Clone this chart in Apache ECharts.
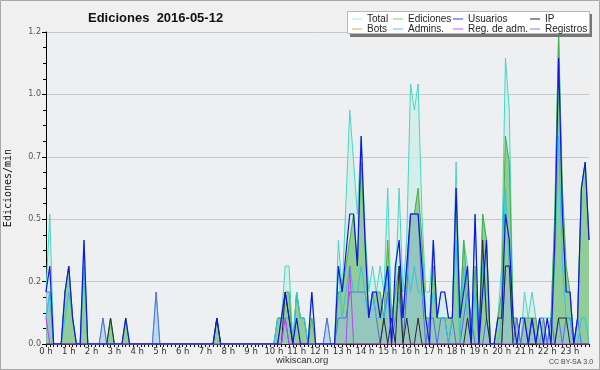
<!DOCTYPE html>
<html><head><meta charset="utf-8">
<script src="https://cdn.jsdelivr.net/npm/echarts@6/dist/echarts.min.js"></script>
<style>html,body{margin:0;padding:0;background:#f0f0f0}#c{width:600px;height:370px}</style>
</head><body><div id="c"></div>
<script>
const hourLabels = ['0 h','1 h','2 h','3 h','4 h','5 h','6 h','7 h','8 h','9 h','10 h','11 h','12 h','13 h','14 h','15 h','16 h','17 h','18 h','19 h','20 h','21 h','22 h','23 h'];
const yTicks = [0, 0.24, 0.48, 0.72, 0.96, 1.2];
// one value every 10 minutes, six per hour
const total = [
 0.2,0.5,0,0,0,0.2,  0.3,0.1,0,0,0.4,0,  0,0,0,0.1,0,0.1,  0,0,0,0.1,0,0,
 0,0,0,0,0,0.2,  0,0,0,0,0,0,  0,0,0,0,0,0,  0,0,0,0.1,0,0,
 0,0,0,0,0,0,  0,0,0,0,0,0,  0,0.1,0.1,0.3,0.3,0,  0.2,0.1,0.1,0,0.2,0,
 0,0,0.1,0,0,0.4,  0.2,0.55,0.9,0.7,0.5,0.8,  0.45,0.2,0.3,0.2,0.3,0.2,  0.6,0.1,0.2,0.6,0.2,0.4,
 1.0,0.9,1.0,0.5,0.2,0.2,  0.4,0.1,0.2,0.2,0.1,0.1,  0.7,0.1,0.4,0.3,0,0.5,  0,0.5,0.4,0,0,0.1,
 0.3,1.1,0.9,0.1,0.1,0,  0.2,0.1,0.2,0.1,0,0.1,  0.1,0.1,0.5,1.2,0.5,0.2,  0.2,0,0.1,0.6,0.7,0.4
];
const ediciones = [
 0.1,0.2,0,0,0,0.2,  0.3,0.1,0,0,0.3,0,  0,0,0,0,0,0.1,  0,0,0,0.1,0,0,
 0,0,0,0,0,0,  0,0,0,0,0,0,  0,0,0,0,0,0,  0,0,0,0.1,0,0,
 0,0,0,0,0,0,  0,0,0,0,0,0,  0,0.1,0.1,0.2,0.2,0,  0.2,0.1,0.1,0,0.1,0,
 0,0,0,0,0,0.2,  0.2,0.3,0.4,0.5,0.3,0.7,  0.4,0.1,0.2,0.2,0.2,0.1,  0.4,0.1,0.2,0.3,0.1,0.3,
 0.5,0.5,0.6,0.4,0.1,0.1,  0.3,0.1,0.1,0.1,0.1,0.1,  0.6,0.1,0.4,0.2,0,0.3,  0,0.5,0.4,0,0,0.1,
 0.2,0.8,0.7,0.1,0.1,0,  0.1,0.1,0.1,0.1,0,0.1,  0,0.1,0.5,1.19,0.6,0.3,  0.2,0,0.1,0.6,0.7,0.4
];
const usuarios = [
 0.2,0.3,0,0,0,0.2,  0.3,0.1,0,0,0.4,0,  0,0,0,0,0,0,  0,0,0,0.1,0,0,
 0,0,0,0,0,0,  0,0,0,0,0,0,  0,0,0,0,0,0,  0,0,0,0.1,0,0,
 0,0,0,0,0,0,  0,0,0,0,0,0,  0,0,0.1,0.2,0.1,0,  0.1,0,0,0,0.2,0,
 0,0,0,0,0,0.3,  0.2,0.35,0.5,0.5,0.3,0.8,  0.4,0.1,0.2,0.2,0.1,0.2,  0.3,0,0.3,0.4,0.1,0.3,
 0.5,0.5,0.5,0.3,0.1,0,  0.4,0.1,0.2,0.2,0.1,0.1,  0.6,0.1,0.2,0.3,0,0.5,  0,0.2,0.4,0,0,0.1,
 0.1,0.5,0.4,0.1,0,0.1,  0.1,0,0.1,0,0.1,0,  0.1,0,0.4,1.1,0.5,0.2,  0.2,0,0.1,0.6,0.7,0.4
];
const ip = [
 0,0,0,0,0,0,  0,0,0,0,0,0,  0,0,0,0,0,0.1,  0,0,0,0,0,0,
 0,0,0,0,0,0,  0,0,0,0,0,0,  0,0,0,0,0,0,  0,0,0,0.1,0,0,
 0,0,0,0,0,0,  0,0,0,0,0,0,  0,0,0,0.2,0.1,0,  0,0,0,0,0,0,
 0,0,0,0,0,0,  0,0,0,0,0,0,  0,0,0,0,0,0.1,  0,0.1,0,0.3,0,0.1,
 0,0,0.1,0,0,0,  0,0,0,0,0,0,  0,0,0,0.1,0,0,  0,0.4,0.1,0,0,0,
 0,0.3,0.3,0,0,0,  0,0,0,0,0,0,  0,0,0,0.1,0.1,0.1,  0,0,0,0,0,0
];
const bots = new Array(144).fill(0);
const admins = [
 0.1,0.2,0,0,0,0.1,  0.2,0.1,0,0,0.3,0,  0,0,0,0,0,0,  0,0,0,0,0,0,
 0,0,0,0,0,0,  0,0,0,0,0,0,  0,0,0,0,0,0,  0,0,0,0,0,0,
 0,0,0,0,0,0,  0,0,0,0,0,0,  0,0.1,0.1,0.1,0.1,0,  0.2,0.1,0.1,0,0,0,
 0,0,0,0,0,0.3,  0.1,0.2,0.3,0.2,0.2,0.3,  0.2,0.1,0.2,0.1,0.1,0.1,  0.3,0.1,0.1,0.2,0.1,0.3,
 0.2,0.3,0.2,0.2,0.1,0.1,  0.2,0.1,0.1,0.1,0,0.1,  0.4,0,0.3,0.1,0,0.2,  0,0.3,0.1,0,0,0,
 0.1,0.6,0.3,0,0,0,  0,0,0.1,0,0,0,  0,0,0.3,0.8,0.3,0.1,  0.1,0,0,0.1,0.1,0
];
const regAdm = [
 0.1,0,0,0,0,0,  0,0,0,0,0,0,  0,0,0,0,0,0,  0,0,0,0,0,0,
 0,0,0,0,0,0,  0,0,0,0,0,0,  0,0,0,0,0,0,  0,0,0,0,0,0,
 0,0,0,0,0,0,  0,0,0,0,0,0,  0,0,0,0.1,0,0,  0,0,0,0,0,0,
 0,0,0,0,0,0,  0,0,0.3,0,0,0,  0,0,0,0,0,0,  0,0,0,0,0,0,
 0,0,0,0,0,0,  0,0,0,0,0,0,  0,0,0,0,0,0,  0,0,0,0,0,0,
 0,0,0,0,0,0,  0,0,0.1,0,0,0,  0,0,0,0,0,0,  0,0,0,0,0,0
];
const registros = [
 0.2,0.2,0,0,0,0,  0,0,0,0,0,0,  0,0,0,0.1,0,0,  0,0,0,0,0,0,
 0,0,0,0,0,0.2,  0,0,0,0,0,0,  0,0,0,0,0,0,  0,0,0,0,0,0,
 0,0,0,0,0,0,  0,0,0,0,0,0,  0,0,0.1,0.1,0,0,  0,0,0,0,0,0,
 0,0,0.1,0,0,0.1,  0.1,0.1,0.2,0.2,0.2,0.2,  0.2,0.1,0.2,0.1,0,0.1,  0.2,0,0.1,0.2,0,0.2,
 0.5,0.5,0.5,0.2,0,0.1,  0.1,0,0.1,0.1,0,0.1,  0,0,0.1,0.2,0.1,0,  0,0,0.1,0,0,0,
 0,0.3,0.3,0,0.1,0,  0.1,0,0.1,0,0.1,0.1,  0,0.1,0,0.1,0,0.1,  0.1,0,0.1,0,0,0
];

const categories = [];
hourLabels.forEach((h, hi) => { for (let m = 0; m < 6; m++) categories.push(hi + ':' + m + '0'); });

const colors = {
  'Total': '#46d6c6', 'Ediciones': '#46b046', 'Usuarios': '#1414e0', 'IP': '#2a2a2a',
  'Bots': '#f4a038', 'Admins.': '#30c4e4', 'Reg. de adm.': '#c040ee', 'Registros': '#5868f0'
};
const legendColors = {
  'Total': '#a8e6e0', 'Ediciones': '#7ccf7c', 'Usuarios': '#3a3ae8', 'IP': '#222',
  'Bots': '#f4a038', 'Admins.': '#4cc8e4', 'Reg. de adm.': '#d050f0', 'Registros': '#7080f4'
};

const chart = echarts.init(document.getElementById('c'), null, {renderer: 'canvas'});
function line(name, data, area, z, width) {
  const color = colors[name];
  const s = {name, type: 'line', data, symbol: 'none', z: z || 2,
    lineStyle: {color, width: width || 1}, itemStyle: {color}, emphasis: {disabled: true}};
  if (area) s.areaStyle = {color: area.c, opacity: area.o};
  return s;
}
const leg = (left, names) => ({
  left, top: 14, orient: 'vertical', itemWidth: 10, itemHeight: 10, itemGap: 0, padding: 0, z: 20,
  icon: 'path://M0,4.5L10,4.5L10,5.5L0,5.5Z',
  textStyle: {fontFamily: 'Liberation Sans', fontSize: 10, color: '#222', lineHeight: 10, height: 10, padding: [0,0,0,0]},
  data: names.map(n => ({name: n, itemStyle: {color: legendColors[n], borderWidth: 0}})),
  selectedMode: false
});
chart.setOption({
  animation: false,
  backgroundColor: '#f0f0f0',
  title: {text: 'Ediciones  2016-05-12', left: 83, top: 7,
    textStyle: {fontFamily: 'Liberation Sans', fontWeight: 'bold', fontSize: 13, color: '#111'}},
  legend: [
    leg(352, ['Total', 'Bots']),
    leg(393, ['Ediciones', 'Admins.']),
    leg(453, ['Usuarios', 'Reg. de adm.']),
    leg(530, ['IP', 'Registros'])
  ],
  graphic: [
    {type: 'rect', z: 100, silent: true, shape: {x: 0.5, y: 0.5, width: 599, height: 369}, style: {fill: 'none', stroke: '#a8a8a8', lineWidth: 1}},
    {type: 'rect', z: 10, shape: {x: 350, y: 14, width: 242, height: 23}, style: {fill: '#777'}},
    {type: 'rect', z: 11, shape: {x: 347.5, y: 11.5, width: 242, height: 22}, style: {fill: '#ffffff', stroke: '#b8b8b8', lineWidth: 1}},
    {type: 'text', z: 12, left: 276, top: 355, style: {text: 'wikiscan.org', font: '9.5px "Liberation Sans"', fill: '#333'}},
    {type: 'text', z: 12, left: 549, top: 359, style: {text: 'CC BY-SA 3.0', font: '7px "Liberation Sans"', fill: '#444'}}
  ],
  grid: {left: 46, right: 11, top: 32, bottom: 26, show: true, backgroundColor: '#edeff1', borderWidth: 0, outerBoundsMode: 'none', containLabel: false},
  xAxis: {
    type: 'category', data: categories, boundaryGap: false,
    axisLine: {lineStyle: {color: '#000', width: 1}},
    axisTick: {interval: 0, length: 3, lineStyle: {color: '#000'}},
    axisLabel: {interval: 5, margin: 3, fontFamily: 'DejaVu Sans', fontSize: 8.5, color: '#333',
      formatter: (v, i) => hourLabels[Math.floor(i / 6)]},
    splitLine: {show: false}
  },
  yAxis: {
    type: 'value', min: 0, max: 1.2, interval: 0.24,
    name: 'Ediciones/min', nameLocation: 'middle', nameGap: 33, nameRotate: 90,
    nameTextStyle: {fontFamily: 'DejaVu Sans Mono', fontSize: 10, color: '#111'},
    axisLine: {show: true, lineStyle: {color: '#000', width: 1}},
    axisTick: {show: true, length: 4, lineStyle: {color: '#000'}},
    minorTick: {show: true, splitNumber: 4, length: 3, lineStyle: {color: '#000'}},
    axisLabel: {margin: 5, fontFamily: 'DejaVu Sans', fontSize: 8, color: '#555',
      formatter: v => yTicks.some(t => Math.abs(t - v) < 1e-6) ? v.toFixed(1) : ''},
    splitLine: {lineStyle: {color: '#c8c8c8', width: 1}}
  },
  series: [
    line('Total', total, {c: '#cdeee6', o: 0.75}, 2),
    line('Ediciones', ediciones, {c: '#62b862', o: 0.6}, 3),
    line('Registros', registros, {c: '#9cc4ec', o: 0.45}, 4),
    line('Admins.', admins, null, 5),
    line('IP', ip, null, 6),
    line('Reg. de adm.', regAdm, null, 7),
    line('Bots', bots, null, 1),
    line('Usuarios', usuarios, null, 8, 1.2)
  ]
});
</script></body></html>
